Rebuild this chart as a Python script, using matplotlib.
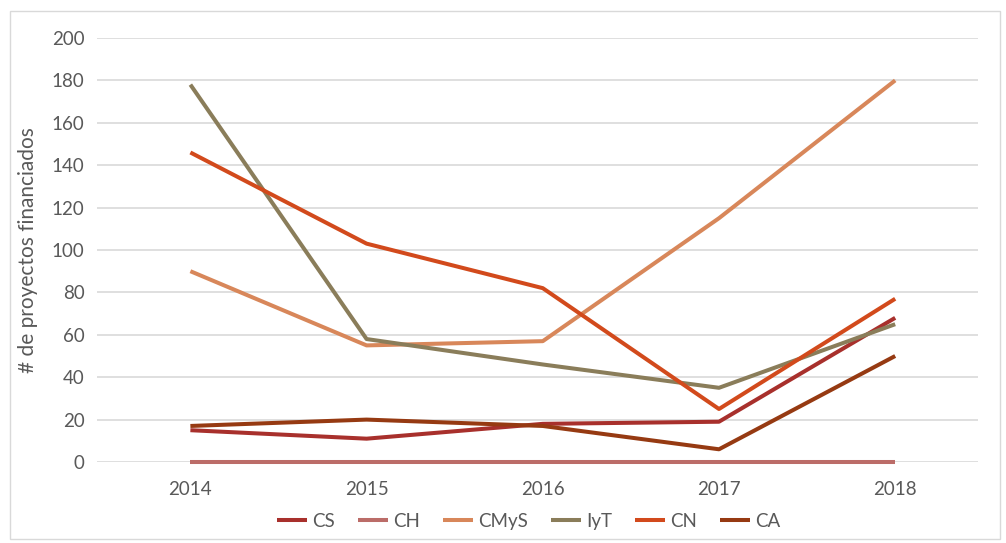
import matplotlib.pyplot as plt
from matplotlib.patches import Rectangle

years = ['2014', '2015', '2016', '2017', '2018']
cs = [15, 11, 18, 19, 68]
ch = [0, 0, 0, 0, 0]
cmys = [90, 55, 57, 115, 180]
iyt = [178, 58, 46, 35, 65]
cn = [146, 103, 82, 25, 77]
ca = [17, 20, 17, 6, 50]

series = [
    ('CS', cs, '#a8302c'),
    ('CH', ch, '#bb6c68'),
    ('CMyS', cmys, '#d8875a'),
    ('IyT', iyt, '#8a7d5a'),
    ('CN', cn, '#d24a1c'),
    ('CA', ca, '#963a12'),
]

plt.rcParams['font.family'] = ['Lato', 'DejaVu Sans']
text_color = '#595959'

fig = plt.figure(figsize=(10.06, 5.43), dpi=100)
ax = fig.add_axes([97 / 1006, 81 / 543, 881 / 1006, 424 / 543])

x = range(len(years))
for name, vals, color in series:
    ax.plot(x, vals, color=color, linewidth=2.9, label=name,
            solid_capstyle='butt', clip_on=False)

ax.set_xlim(-0.53, 4.47)
ax.set_ylim(0, 200)
ax.set_yticks(range(0, 201, 20))
ax.set_xticks(list(x))
ax.set_xticklabels(years)
ax.grid(axis='y', color='#d9d9d9', linewidth=1.2)
ax.set_axisbelow(True)
for s in ax.spines.values():
    s.set_visible(False)
ax.tick_params(length=0, labelsize=13.5, colors=text_color, pad=9)
ax.tick_params(axis='x', pad=14)
ax.set_ylabel('# de proyectos financiados', fontsize=15, color=text_color, labelpad=10)

ax.legend(loc='upper center', bbox_to_anchor=(0.49, -0.08), ncol=6, frameon=False,
          fontsize=13.5, handlelength=1.6, handletextpad=0.3, columnspacing=1.2,
          labelcolor=text_color)

# thin frame around the chart area
fig.patches.append(Rectangle((10 / 1006, 4 / 543), 990 / 1006, 528 / 543,
                             transform=fig.transFigure, fill=False,
                             edgecolor='#d9d9d9', linewidth=1))

fig.savefig('out.png', dpi=100)
